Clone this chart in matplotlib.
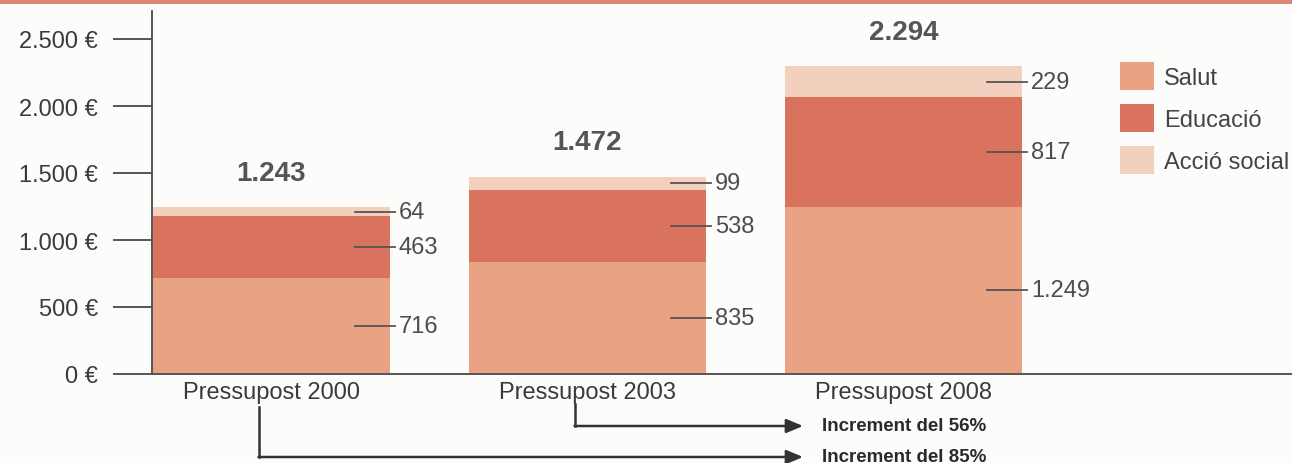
import matplotlib
matplotlib.use("Agg")
import matplotlib.pyplot as plt
from matplotlib.patches import Rectangle
from matplotlib.lines import Line2D

# ---- data ----
categories = ["Pressupost 2000", "Pressupost 2003", "Pressupost 2008"]
series_names = ["Salut", "Educació", "Acció social"]
salut = [716, 835, 1249]
educacio = [463, 538, 817]
accio_social = [64, 99, 229]
totals = ["1.243", "1.472", "2.294"]
y_ticks = [0, 500, 1000, 1500, 2000, 2500]
y_tick_labels = ["0 €", "500 €", "1.000 €", "1.500 €", "2.000 €", "2.500 €"]
increments = ["Increment del 56%", "Increment del 85%"]

colors = ["#e9a283", "#d9735d", "#f3d0bd"]
bg = "#fcfcfa"

plt.rcParams['font.family'] = ['Liberation Sans', 'DejaVu Sans']

W, H = 1292, 464
fig = plt.figure(figsize=(W / 100, H / 100), dpi=100, facecolor=bg)

def fx(px):
    return px / W

def fy(py):
    return 1 - py / H

# top band
fig.add_artist(Rectangle((0, fy(5)), 1, 5 / H, transform=fig.transFigure,
                         color="#dc8873", lw=0, zorder=0))

ax = fig.add_axes([fx(152), fy(375), fx(1292 - 152), (375 - 12) / H])
ax.set_facecolor(bg)
ax.set_ylim(0, 363 / 0.134)
ax.set_xlim(-0.378, -0.378 + 1140 / 316)

x = list(range(len(categories)))
width = 0.75
stack = [salut, educacio, accio_social]
bottoms = [0] * len(x)
containers = []
for vals, col, name in zip(stack, colors, series_names):
    c = ax.bar(x, vals, width=width, bottom=bottoms, color=col, label=name,
               lw=0, zorder=2)
    containers.append(c)
    for i, v in enumerate(vals):
        mid = bottoms[i] + v / 2
        right = x[i] + width / 2
        ax.plot([right - 0.11, right + 0.016], [mid, mid], color="#555555",
                lw=1.3, zorder=3, clip_on=False)
        ax.text(right + 0.028, mid, f"{v:,}".replace(",", "."), va="center",
                ha="left", fontsize=17, color="#4d4d4d")
    bottoms = [b + v for b, v in zip(bottoms, vals)]

for i, t in enumerate(totals):
    ax.annotate(t, (x[i], bottoms[i]), xytext=(0, 25), textcoords="offset points",
                ha="center", va="center", fontsize=20, fontweight="bold",
                color="#555555")

for s in ["top", "right"]:
    ax.spines[s].set_visible(False)
for s in ["left", "bottom"]:
    ax.spines[s].set_color("#555555")
    ax.spines[s].set_linewidth(1.4)

ax.set_yticks(y_ticks)
ax.set_yticklabels(y_tick_labels)
ax.tick_params(axis="y", direction="out", length=28, width=1.4, color="#555555",
               pad=11, labelsize=17, labelcolor="#3a3a3a")
ax.set_xticks(x)
ax.set_xticklabels(categories)
ax.tick_params(axis="x", length=0, pad=5, labelsize=17, labelcolor="#3a3a3a")

# legend
leg = ax.legend(handles=containers, loc="upper left",
                bbox_to_anchor=(fx(1120), fy(63)), bbox_transform=fig.transFigure,
                frameon=False, fontsize=17, handlelength=1.45, handleheight=1.45,
                handletextpad=0.4, labelspacing=0.6, borderpad=0, borderaxespad=0)
for t in leg.get_texts():
    t.set_color("#444444")

# increment arrows
fig.canvas.draw()
def data_px(xv):
    return ax.transData.transform((xv, 0))[0]

arrow_specs = [(1, 405, 427, increments[0]), (0, 408, 458, increments[1])]
end_px = 803
for idx, ytop, yline, label in arrow_specs:
    xs = data_px(x[idx]) - 12
    fig.add_artist(Line2D([fx(xs), fx(xs)], [fy(ytop), fy(yline)],
                          transform=fig.transFigure, color="#333333", lw=1.8))
    ax.annotate("", xy=(end_px, H - yline), xytext=(xs - 0.9, H - yline),
                xycoords="figure pixels", textcoords="figure pixels",
                arrowprops=dict(arrowstyle="-|>,head_length=1.0,head_width=0.42",
                                color="#333333", lw=1.8, shrinkA=0, shrinkB=0))
    fig.text(fx(822), fy(yline), label, ha="left", va="center", fontsize=13.5,
             fontweight="bold", color="#2a2a2a")

fig.savefig("out.png", dpi=100, facecolor=bg)
